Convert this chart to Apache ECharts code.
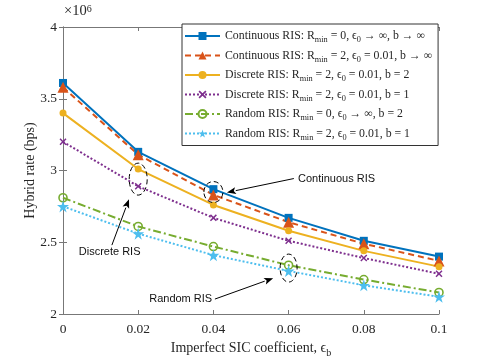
<!DOCTYPE html>
<html lang="en">
<head>
<meta charset="UTF-8">
<title>Hybrid rate vs imperfect SIC coefficient</title>
<script src="https://cdn.jsdelivr.net/npm/echarts@6/dist/echarts.min.js"></script>
<style>
  html, body { margin: 0; padding: 0; background: #fff; }
  #chart { width: 485px; height: 363px; }
</style>
</head>
<body>
<div id="chart"></div>
<script>
// imperfect SIC coefficient (x) and hybrid rate in units of 1e6 bps (y)
var sicCoef = [0, 0.02, 0.04, 0.06, 0.08, 0.1];
var xTicks = ['0', '0.02', '0.04', '0.06', '0.08', '0.1'];
var yTicks = ['2', '2.5', '3', '3.5', '4'];

var contIdeal   = [3.61, 3.13, 2.87, 2.67, 2.51, 2.40];
var contRmin2   = [3.58, 3.11, 2.83, 2.64, 2.49, 2.37];
var discB2      = [3.40, 3.01, 2.76, 2.58, 2.44, 2.33];
var discB1      = [3.20, 2.89, 2.67, 2.51, 2.39, 2.28];
var randIdeal   = [2.81, 2.61, 2.47, 2.34, 2.24, 2.15];
var randRmin2   = [2.75, 2.56, 2.41, 2.30, 2.20, 2.12];

var names = [
  'Continuous RIS: R{s|min} = 0, ϵ{s|0} → ∞, b → ∞',
  'Continuous RIS: R{s|min} = 2, ϵ{s|0} = 0.01, b → ∞',
  'Discrete RIS: R{s|min} = 2, ϵ{s|0} = 0.01, b = 2',
  'Discrete RIS: R{s|min} = 2, ϵ{s|0} = 0.01, b = 1',
  'Random RIS: R{s|min} = 0, ϵ{s|0} → ∞, b = 2',
  'Random RIS: R{s|min} = 2, ϵ{s|0} = 0.01, b = 1'
];

var xMark = 'path://M0,1.5 L1.5,0 L5,3.5 L8.5,0 L10,1.5 L6.5,5 L10,8.5 L8.5,10 L5,6.5 L1.5,10 L0,8.5 L3.5,5 Z';
var starMark = 'path://M50,0 L61,35 L98,35 L68,57 L79,91 L50,70 L21,91 L32,57 L2,35 L39,35 Z';

function pairs(ys) {
  return sicCoef.map(function (x, i) { return [x, ys[i]]; });
}

function mkSeries(name, ys, color, dash, symbol, size, hollow) {
  return {
    name: name,
    type: 'line',
    data: pairs(ys),
    symbol: symbol,
    symbolSize: size,
    showAllSymbol: true,
    lineStyle: { color: color, width: 2, type: dash },
    itemStyle: hollow
      ? { color: 'rgba(255,255,255,0)', borderColor: color, borderWidth: 1.6 }
      : { color: color },
    emphasis: { disabled: true },
    animation: false
  };
}

var axisGray = '#777';
var textDark = '#262626';

var chart = echarts.init(document.getElementById('chart'));
var option = {
  backgroundColor: '#fff',
  animation: false,
  grid: { left: 63, right: 46, top: 27, bottom: 47.5 },
  legend: {
    orient: 'vertical',
    left: 182,
    top: 24,
    padding: [4, 6, 4, 2],
    itemGap: 3.5,
    itemWidth: 35,
    itemHeight: 10,
    backgroundColor: '#fff',
    borderColor: '#333',
    borderWidth: 1,
    borderRadius: 0,
    selectedMode: false,
    textStyle: {
      fontFamily: 'Liberation Serif',
      fontSize: 11.8,
      color: textDark,
      lineHeight: 16,
      rich: {
        s: { fontFamily: 'Liberation Serif', fontSize: 8.3, lineHeight: 8, verticalAlign: 'bottom', color: textDark }
      }
    },
    data: names
  },
  xAxis: [{
    type: 'value',
    min: 0, max: 0.1, interval: 0.02,
    name: 'Imperfect SIC coefficient, ϵ{sub|b}',
    nameLocation: 'middle',
    nameGap: 24,
    nameMoveOverlap: false,
    nameTextStyle: {
      fontFamily: 'Liberation Serif', fontSize: 14, color: textDark, lineHeight: 20,
      rich: { sub: { fontFamily: 'Liberation Serif', fontSize: 10, lineHeight: 10, verticalAlign: 'bottom', color: textDark } }
    },
    axisLine: { show: true, lineStyle: { color: axisGray, width: 1 } },
    axisTick: { inside: true, length: 4, lineStyle: { color: axisGray } },
    axisLabel: {
      margin: 8, fontFamily: 'Liberation Serif', fontSize: 13.5, color: textDark,
      formatter: function (v) { return xTicks[Math.round(v / 0.02)]; }
    },
    splitLine: { show: false }
  }, {
    type: 'value',
    position: 'top',
    min: 0, max: 0.1, interval: 0.02,
    axisLine: { show: true, lineStyle: { color: axisGray, width: 1 } },
    axisTick: { inside: true, length: 4, lineStyle: { color: axisGray } },
    axisLabel: { show: false },
    splitLine: { show: false }
  }],
  yAxis: [{
    type: 'value',
    min: 2, max: 4, interval: 0.5,
    name: 'Hybrid rate (bps)',
    nameLocation: 'middle',
    nameGap: 26,
    nameMoveOverlap: false,
    nameTextStyle: { fontFamily: 'Liberation Serif', fontSize: 14, color: textDark },
    axisLine: { show: true, lineStyle: { color: axisGray, width: 1 } },
    axisTick: { inside: true, length: 4, lineStyle: { color: axisGray } },
    axisLabel: {
      margin: 6, fontFamily: 'Liberation Serif', fontSize: 13.5, color: textDark,
      formatter: function (v) { return yTicks[Math.round((v - 2) / 0.5)]; }
    },
    splitLine: { show: false }
  }, {
    type: 'value',
    position: 'right',
    min: 2, max: 4, interval: 0.5,
    axisLine: { show: true, lineStyle: { color: axisGray, width: 1 } },
    axisTick: { inside: true, length: 4, lineStyle: { color: axisGray } },
    axisLabel: { show: false },
    splitLine: { show: false }
  }],
  series: [
    mkSeries(names[0], contIdeal, '#0072BD', 'solid', 'rect', 8, false),
    mkSeries(names[1], contRmin2, '#D95319', [6, 4], 'triangle', 11, false),
    mkSeries(names[2], discB2, '#EDB120', 'solid', 'circle', 7, false),
    mkSeries(names[3], discB1, '#7E2F8E', [2, 2], xMark, 7, false),
    mkSeries(names[4], randIdeal, '#77AC30', [8, 3, 2, 3], 'circle', 8, true),
    mkSeries(names[5], randRmin2, '#4DBEEE', [2, 2], starMark, 12, false)
  ]
};
chart.setOption(option);

// annotation positions in data coordinates
var ellipses = [
  { at: [0.02, 2.94], rx: 9, ry: 16 },
  { at: [0.04, 2.85], rx: 9.5, ry: 10.5 },
  { at: [0.06, 2.32], rx: 8.5, ry: 14 }
];
var notes = [
  { text: 'Continuous RIS', at: [0.0625, 2.944], align: 'left', from: [0.0614, 2.944], to: [0.0436, 2.847] },
  { text: 'Discrete RIS', at: [0.0124, 2.43], align: 'center', from: [0.0130, 2.48], to: [0.01755, 2.80] },
  { text: 'Random RIS', at: [0.0313, 2.104], align: 'center', from: [0.0404, 2.104], to: [0.0559, 2.25] }
];

function px(p) { return chart.convertToPixel({ gridIndex: 0 }, p); }

var graphics = [{
  type: 'text', left: 64, top: 4,
  style: {
    text: '×10{sup|6}',
    fontFamily: 'Liberation Serif', fontSize: 14.5, fill: textDark,
    rich: { sup: { fontFamily: 'Liberation Serif', fontSize: 10, verticalAlign: 'top', lineHeight: 10, fill: textDark } }
  }
}];

ellipses.forEach(function (e) {
  var c = px(e.at);
  graphics.push({
    type: 'ellipse', z: 100,
    shape: { cx: c[0], cy: c[1], rx: e.rx, ry: e.ry },
    style: { fill: null, stroke: '#000', lineWidth: 1, lineDash: [5, 3] }
  });
});

notes.forEach(function (n) {
  var p = px(n.at), a = px(n.from), b = px(n.to);
  var ang = Math.atan2(b[1] - a[1], b[0] - a[0]);
  var len = 9, half = 3.5;
  var bx = b[0] - len * Math.cos(ang), by = b[1] - len * Math.sin(ang);
  graphics.push({
    type: 'text', z: 100, x: p[0], y: p[1],
    style: { text: n.text, fontFamily: 'Liberation Sans', fontSize: 11, fill: '#111', align: n.align, verticalAlign: 'middle' }
  });
  graphics.push({
    type: 'line', z: 100,
    shape: { x1: a[0], y1: a[1], x2: bx, y2: by },
    style: { stroke: '#000', lineWidth: 1 }
  });
  graphics.push({
    type: 'polygon', z: 100,
    shape: { points: [
      [b[0], b[1]],
      [bx + half * Math.sin(ang), by - half * Math.cos(ang)],
      [bx + 2 * Math.cos(ang), by + 2 * Math.sin(ang)],
      [bx - half * Math.sin(ang), by + half * Math.cos(ang)]
    ] },
    style: { fill: '#000' }
  });
});

chart.setOption({ graphic: graphics });
</script>
</body>
</html>
